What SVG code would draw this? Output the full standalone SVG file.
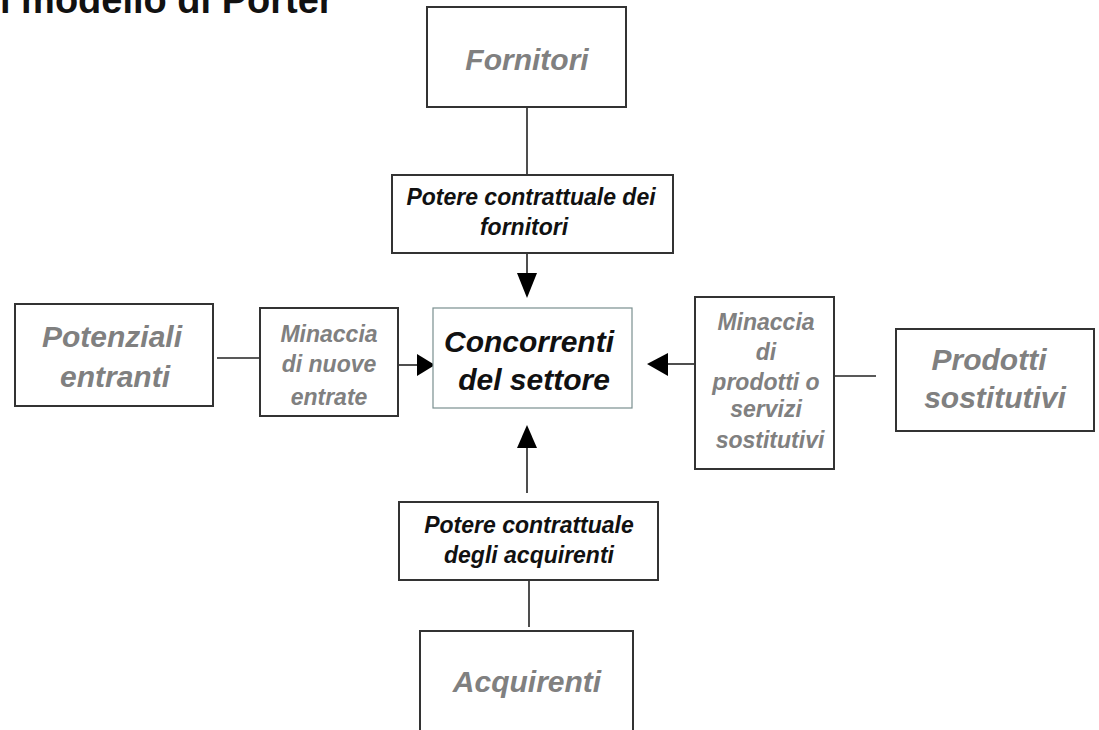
<svg xmlns="http://www.w3.org/2000/svg" width="1099" height="730" viewBox="0 0 1099 730">
<defs>
<style>
.box{fill:#fff;stroke:#333;stroke-width:2}
.thin{fill:#fff;stroke:#7a8f8f;stroke-width:1.2}
.g{font-family:"Liberation Sans",Arial,sans-serif;font-style:italic;font-weight:bold;fill:#808080;text-anchor:middle}
.k{font-family:"Liberation Sans",Arial,sans-serif;font-style:italic;font-weight:bold;fill:#111;text-anchor:middle}
.big{font-size:30px}
.mid{font-size:23px}
.ln{stroke:#222;stroke-width:1.6;fill:none}
</style>
</defs>
<rect width="1099" height="730" fill="#fff"/>
<text x="0" y="13" font-family="Liberation Sans,Arial,sans-serif" font-weight="bold" font-size="38" fill="#111">l modello di Porter</text>

<g id="connectors">
<line class="ln" x1="527" y1="107" x2="527" y2="175"/>
<line class="ln" x1="527" y1="253" x2="527" y2="275"/>
<path d="M517,273 L537,273 L527,298 Z" fill="#000"/>
<line class="ln" x1="217" y1="358" x2="260" y2="358"/>
<line class="ln" x1="387" y1="365" x2="418" y2="365"/>
<path d="M417,354 L417,376 L435,365 Z" fill="#000"/>
<line class="ln" x1="667" y1="364" x2="695" y2="364"/>
<path d="M668,353 L668,376 L647,364 Z" fill="#000"/>
<line class="ln" x1="834" y1="376" x2="876" y2="376"/>
<line class="ln" x1="527" y1="446" x2="527" y2="493"/>
<path d="M517,448 L537,448 L527,425 Z" fill="#000"/>
<line class="ln" x1="529" y1="580" x2="529" y2="627"/>
</g>

<g id="fornitori">
<rect class="box" x="427" y="7" width="199" height="100"/>
<text class="g big" x="527" y="70">Fornitori</text>
</g>
<g id="potere-fornitori">
<rect class="box" x="392" y="175" width="281" height="78"/>
<text class="k mid" x="531" y="205">Potere contrattuale dei</text>
<text class="k mid" x="524" y="235">fornitori</text>
</g>
<g id="concorrenti">
<rect class="thin" x="433" y="308" width="199" height="100"/>
<text class="k big" x="529" y="352">Concorrenti</text>
<text class="k big" x="534" y="390">del settore</text>
</g>
<g id="potenziali">
<rect class="box" x="15" y="304" width="198" height="102"/>
<text class="g big" x="112" y="347">Potenziali</text>
<text class="g big" x="115" y="387">entranti</text>
</g>
<g id="minaccia-entrate">
<rect class="box" x="260" y="308" width="138" height="108"/>
<text class="g mid" x="329" y="342">Minaccia</text>
<text class="g mid" x="329" y="372">di nuove</text>
<text class="g mid" x="329" y="405">entrate</text>
</g>
<g id="minaccia-sostitutivi">
<rect class="box" x="695" y="297" width="139" height="172"/>
<text class="g mid" x="766" y="330">Minaccia</text>
<text class="g mid" x="766" y="360">di</text>
<text class="g mid" x="766" y="390">prodotti o</text>
<text class="g mid" x="766" y="417">servizi</text>
<text class="g mid" x="770" y="448">sostitutivi</text>
</g>
<g id="prodotti">
<rect class="box" x="896" y="329" width="198" height="102"/>
<text class="g big" x="989" y="370">Prodotti</text>
<text class="g big" x="995" y="408">sostitutivi</text>
</g>
<g id="potere-acquirenti">
<rect class="box" x="399" y="502" width="259" height="78"/>
<text class="k mid" x="529" y="533">Potere contrattuale</text>
<text class="k mid" x="529" y="563">degli acquirenti</text>
</g>
<g id="acquirenti">
<rect class="box" x="420" y="631" width="213" height="110"/>
<text class="g big" x="527" y="692">Acquirenti</text>
</g>
</svg>
